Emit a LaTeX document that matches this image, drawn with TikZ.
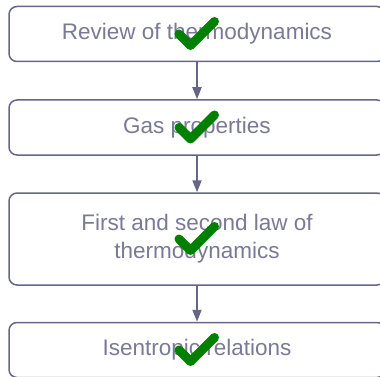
\documentclass[tikz,border=0pt]{standalone}
\usepackage{fontspec}
\setmainfont{Liberation Sans}
\usetikzlibrary{arrows.meta}
\definecolor{edge}{HTML}{66668A}
\definecolor{label}{HTML}{7A7A96}
\definecolor{tickgreen}{RGB}{0,128,0}
\tikzset{
  stage/.style={draw=edge, line width=1.5pt, rounded corners=8pt, fill=white,
    minimum width=376pt, minimum height=55pt, text=label, align=center,
    font=\fontsize{22.5}{28}\selectfont, inner sep=0pt},
  flow/.style={draw=edge, line width=2pt, -{Triangle[length=12pt,width=9pt]}},
  tickstroke/.style={draw=tickgreen, line width=9pt, line cap=round, line join=round},
  tick/.pic={\draw[tickstroke] (-18,0) -- (-6.5,11.5) -- (17.5,-12.5);}
}
\begin{document}
\begin{tikzpicture}[x=1pt, y=-1pt]
  \useasboundingbox (0,0) rectangle (380,377);
  \clip (0,0) rectangle (380,377);
  \node[stage] (b1) at (197,34) {Review of thermodynamics};
  \node[stage] (b2) at (197,127.5) {Gas properties};
  \node[stage, minimum height=92pt] (b3) at (197,239) {First and second law of\\thermodynamics};
  \node[stage] (b4) at (197,350) {Isentropic relations};
  \draw[flow] (b1) -- (b2);
  \draw[flow] (b2) -- (b3);
  \draw[flow] (b3) -- (b4);
  \pic at (b1.center) {tick};
  \pic at (b2.center) {tick};
  \pic at (b3.center) {tick};
  \pic at (b4.center) {tick};
\end{tikzpicture}
\end{document}
